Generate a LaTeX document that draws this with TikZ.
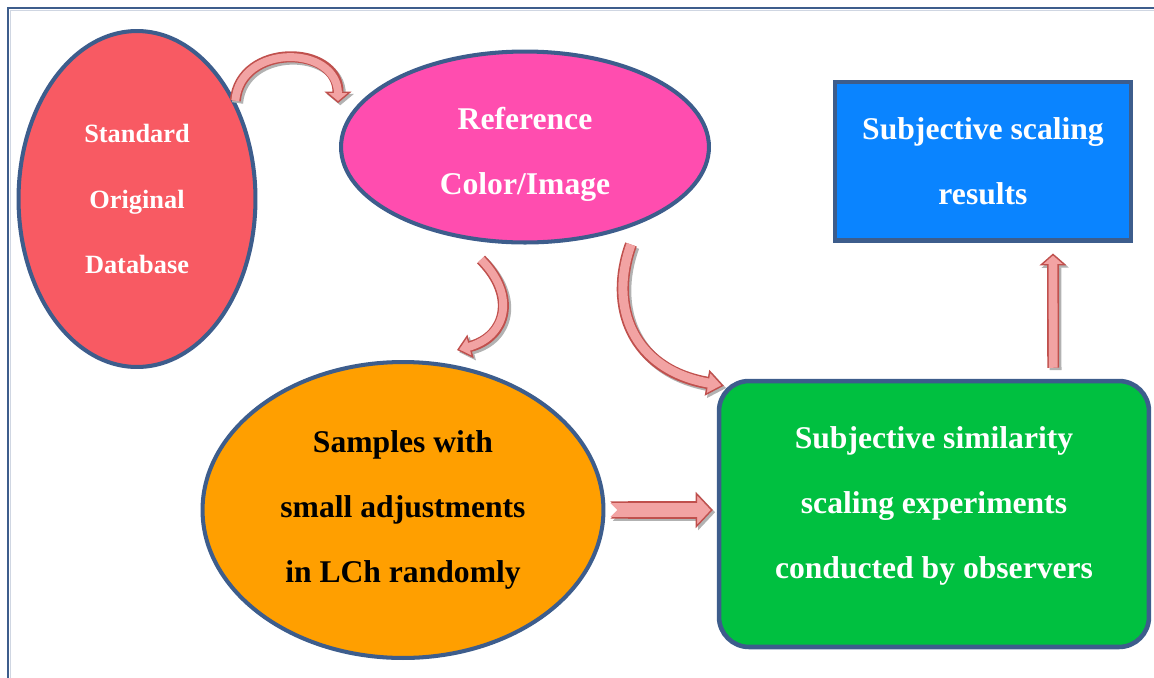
\documentclass[tikz,border=0pt]{standalone}
\usepackage{fontspec}
\setmainfont{Liberation Serif}
\usetikzlibrary{shapes.geometric, arrows.meta, positioning, calc}

\definecolor{outline}{HTML}{3D5D8C}
\definecolor{stdred}{HTML}{F85A63}
\definecolor{refpink}{HTML}{FF4DAF}
\definecolor{resblue}{HTML}{0A84FF}
\definecolor{samporange}{HTML}{FF9F00}
\definecolor{expgreen}{HTML}{00C040}
\definecolor{arredge}{HTML}{C0504D}
\definecolor{arrfill}{HTML}{F2A3A3}

\begin{document}
\begin{tikzpicture}[x=0.02cm, y=0.02cm,
        blob/.style={ellipse, draw=outline, line width=2.3pt, inner sep=0pt, align=center, text=white,
            font=\fontsize{18}{37}\selectfont\bfseries},
        box/.style={rectangle, draw=outline, line width=2.3pt, inner sep=0pt, align=center, text=white,
            font=\fontsize{18}{37}\selectfont\bfseries},
        inlabel/.style={font=\fontsize{18}{37}\selectfont\bfseries, text=white, align=center},
        % shaft width, head width, head length, tail
        barrow/.style n args={4}{line width=#1, draw=arredge,
            arrows={#4-{Triangle[width=#2, length=#3, line width=0.8pt, fill=arrfill]}},
            preaction={draw=black!30, line width=#1,
                arrows={#4-{Triangle[width=#2, length=#3, line width=0.8pt, fill=black!30]}},
                transform canvas={shift={(1.3pt,-1.3pt)}}},
            postaction={draw=arrfill, line width=#1-1.8pt, arrows={#4-}, shorten >=#3-1.5pt}},
        frame/.style={draw=outline, line width=1.7pt}
    ]
    \useasboundingbox (0,0) rectangle (1154,-677);

    % outer frame
    \draw[frame] (8,-700) |- (1180,-8);
    \draw[outline!25, line width=0.6pt] (10.5,-700) |- (1180,-10.5);

    % Ellipses
    \node[blob, fill=stdred, minimum width=4.74cm, minimum height=6.72cm,
        font=\fontsize{15}{37.5}\selectfont\bfseries] (std) at (137,-199) {Standard\\Original\\Database};
    \node[blob, fill=refpink, minimum width=7.36cm, minimum height=3.82cm,
        label={[inlabel, yshift=-0.14cm]center:Reference\\Color/Image}] (refimg) at (525,-147) {};
    \node[blob, fill=samporange, text=black, minimum width=8.02cm, minimum height=5.92cm] (samples) at (403,-510)
        {Samples with\\small adjustments\\in LCh randomly};

    % Boxes
    \node[box, fill=resblue, minimum width=5.92cm, minimum height=3.18cm] (results) at (983,-161) {Subjective scaling\\results};
    \node[box, fill=expgreen, line width=2.6pt, rounded corners=0.6cm, minimum width=8.6cm, minimum height=5.32cm,
        label={[inlabel, yshift=0.16cm]center:Subjective similarity\\scaling experiments\\conducted by observers}]
        (experiments) at (934,-514) {};

    % Block arrows
    \draw[barrow={6.3pt}{15.4pt}{6.5pt}{}] (std.45) to[out=85, in=90, looseness=1.45] ($(refimg.west)+(-1,44)$);
    \draw[barrow={6.3pt}{13.7pt}{8pt}{}] ($(refimg.south)+(-44,-15)$) to[out=-45, in=15, looseness=1.4] ($(samples.north)+(54,10)$);
    \draw[barrow={7pt}{14.8pt}{9.7pt}{}] ($(refimg.south)+(106,0)$) to[out=250, in=170, in looseness=1.4] ($(experiments.north west)+(7,-7)$);
    \draw[barrow={9.7pt}{20.5pt}{9.7pt}{{Triangle Cap[reversed]}}] ($(samples.east)+(5,0)$) -- ($(experiments.west)+(-4,4)$);
    \draw[barrow={6.8pt}{15.4pt}{6.8pt}{}] ($(experiments.north east)+(-98,11)$) -- ($(results.south east)+(-80,-11)$);

\end{tikzpicture}
\end{document}
